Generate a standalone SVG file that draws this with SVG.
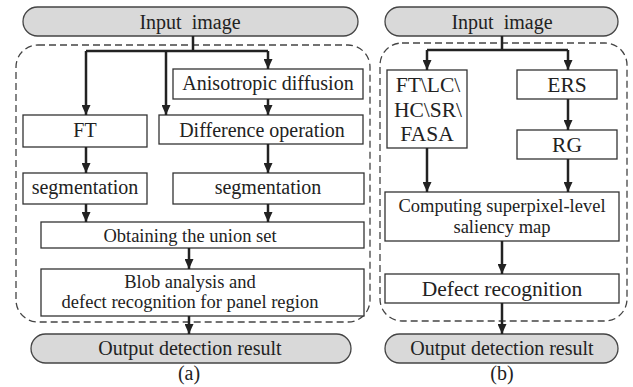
<svg xmlns="http://www.w3.org/2000/svg" width="633" height="387" viewBox="0 0 633 387">
  <style>
    text { fill: #222; text-anchor: middle; }
    .t20 { font-size: 20px; }
    .t18 { font-size: 18.5px; }
    .t21 { font-size: 21.5px; }
    .pill { fill: #d9d9d9; stroke: #444; stroke-width: 1.3; }
    .box { fill: #fff; stroke: #333; stroke-width: 1.3; }
    .frame { fill: none; stroke: #444; stroke-width: 1.3; stroke-dasharray: 7 4; }
    .conn { fill: none; stroke: #222; stroke-width: 2.5; }
  </style>
  <defs>
    <marker id="arrow" markerUnits="userSpaceOnUse" markerWidth="10" markerHeight="9" refX="10" refY="4.5" orient="auto">
      <path d="M0,0 L10,4.5 L0,9 z" fill="#222"/>
    </marker>
  </defs>

  <rect width="633" height="387" fill="#fff"/>

  <g font-family="'Liberation Serif', 'DejaVu Serif', 'Times New Roman', serif">
  <!-- dashed processing frames -->
  <rect class="frame" x="16" y="45" width="354" height="277" rx="22"/>
  <rect class="frame" x="380" y="43" width="247" height="278" rx="22"/>

  <!-- (a) pipeline -->
  <g id="a-input">
    <rect class="pill" x="23" y="7" width="335" height="29" rx="14.5"/>
    <text class="t20" x="190" y="29" xml:space="preserve">Input  image</text>
  </g>
  <g id="a-aniso">
    <rect class="box" x="173" y="69" width="190" height="30"/>
    <text class="t20" x="268" y="90">Anisotropic diffusion</text>
  </g>
  <g id="a-ft">
    <rect class="box" x="23" y="115" width="124" height="32"/>
    <text class="t20" x="85" y="137">FT</text>
  </g>
  <g id="a-diff">
    <rect class="box" x="159" y="115" width="204" height="29"/>
    <text class="t20" x="262" y="137">Difference operation</text>
  </g>
  <g id="a-seg1">
    <rect class="box" x="23" y="173" width="124" height="31"/>
    <text class="t20" x="85" y="194">segmentation</text>
  </g>
  <g id="a-seg2">
    <rect class="box" x="173" y="173" width="191" height="31"/>
    <text class="t20" x="268" y="194">segmentation</text>
  </g>
  <g id="a-union">
    <rect class="box" x="41" y="222" width="323" height="26"/>
    <text class="t18" x="190" y="242">Obtaining the union set</text>
  </g>
  <g id="a-blob">
    <rect class="box" x="41" y="269" width="323" height="47"/>
    <text class="t18" x="190" y="288">Blob analysis and</text>
    <text class="t18" x="190" y="308">defect recognition for panel region</text>
  </g>
  <g id="a-output">
    <rect class="pill" x="31" y="334" width="320" height="29" rx="14.5"/>
    <text class="t20" x="190" y="355">Output detection result</text>
  </g>
  <text class="t20" x="189" y="380">(a)</text>

  <!-- (b) pipeline -->
  <g id="b-input">
    <rect class="pill" x="385" y="7" width="233" height="29" rx="14.5"/>
    <text class="t20" x="502" y="29" xml:space="preserve">Input  image</text>
  </g>
  <g id="b-saliency">
    <rect class="box" x="387" y="70" width="80" height="78"/>
    <text class="t21" x="428" y="92">FT\LC\</text>
    <text class="t21" x="428" y="117">HC\SR\</text>
    <text class="t21" x="427" y="141">FASA</text>
  </g>
  <g id="b-ers">
    <rect class="box" x="517" y="70" width="100" height="29"/>
    <text class="t21" x="567" y="92">ERS</text>
  </g>
  <g id="b-rg">
    <rect class="box" x="517" y="130" width="100" height="29"/>
    <text class="t21" x="567" y="152">RG</text>
  </g>
  <g id="b-compute">
    <rect class="box" x="385" y="192" width="234" height="49"/>
    <text class="t18" x="502" y="212">Computing superpixel-level</text>
    <text class="t18" x="502" y="233">saliency map</text>
  </g>
  <g id="b-defect">
    <rect class="box" x="385" y="274" width="234" height="29"/>
    <text class="t21" x="502" y="296">Defect recognition</text>
  </g>
  <g id="b-output">
    <rect class="pill" x="385" y="334" width="233" height="29" rx="14.5"/>
    <text class="t20" x="502" y="355">Output detection result</text>
  </g>
  <text class="t20" x="502" y="380">(b)</text>
  </g>

  <!-- connectors -->
  <g id="connectors">
    <path class="conn" d="M193,36 V51 M86,51 H268"/>
    <path class="conn" d="M86,51 V115" marker-end="url(#arrow)"/>
    <path class="conn" d="M166,51 V115" marker-end="url(#arrow)"/>
    <path class="conn" d="M268,51 V69" marker-end="url(#arrow)"/>
    <path class="conn" d="M268,99 V115" marker-end="url(#arrow)"/>
    <path class="conn" d="M86,147 V173" marker-end="url(#arrow)"/>
    <path class="conn" d="M268,144 V173" marker-end="url(#arrow)"/>
    <path class="conn" d="M86,204 V222" marker-end="url(#arrow)"/>
    <path class="conn" d="M268,204 V222" marker-end="url(#arrow)"/>
    <path class="conn" d="M189,248 V269" marker-end="url(#arrow)"/>
    <path class="conn" d="M189,316 V334" marker-end="url(#arrow)"/>

    <path class="conn" d="M502,36 V50 M427,50 H568"/>
    <path class="conn" d="M427,50 V70" marker-end="url(#arrow)"/>
    <path class="conn" d="M568,50 V70" marker-end="url(#arrow)"/>
    <path class="conn" d="M568,99 V130" marker-end="url(#arrow)"/>
    <path class="conn" d="M427,148 V192" marker-end="url(#arrow)"/>
    <path class="conn" d="M568,159 V192" marker-end="url(#arrow)"/>
    <path class="conn" d="M502,241 V274" marker-end="url(#arrow)"/>
    <path class="conn" d="M502,303 V334" marker-end="url(#arrow)"/>
  </g>
</svg>
